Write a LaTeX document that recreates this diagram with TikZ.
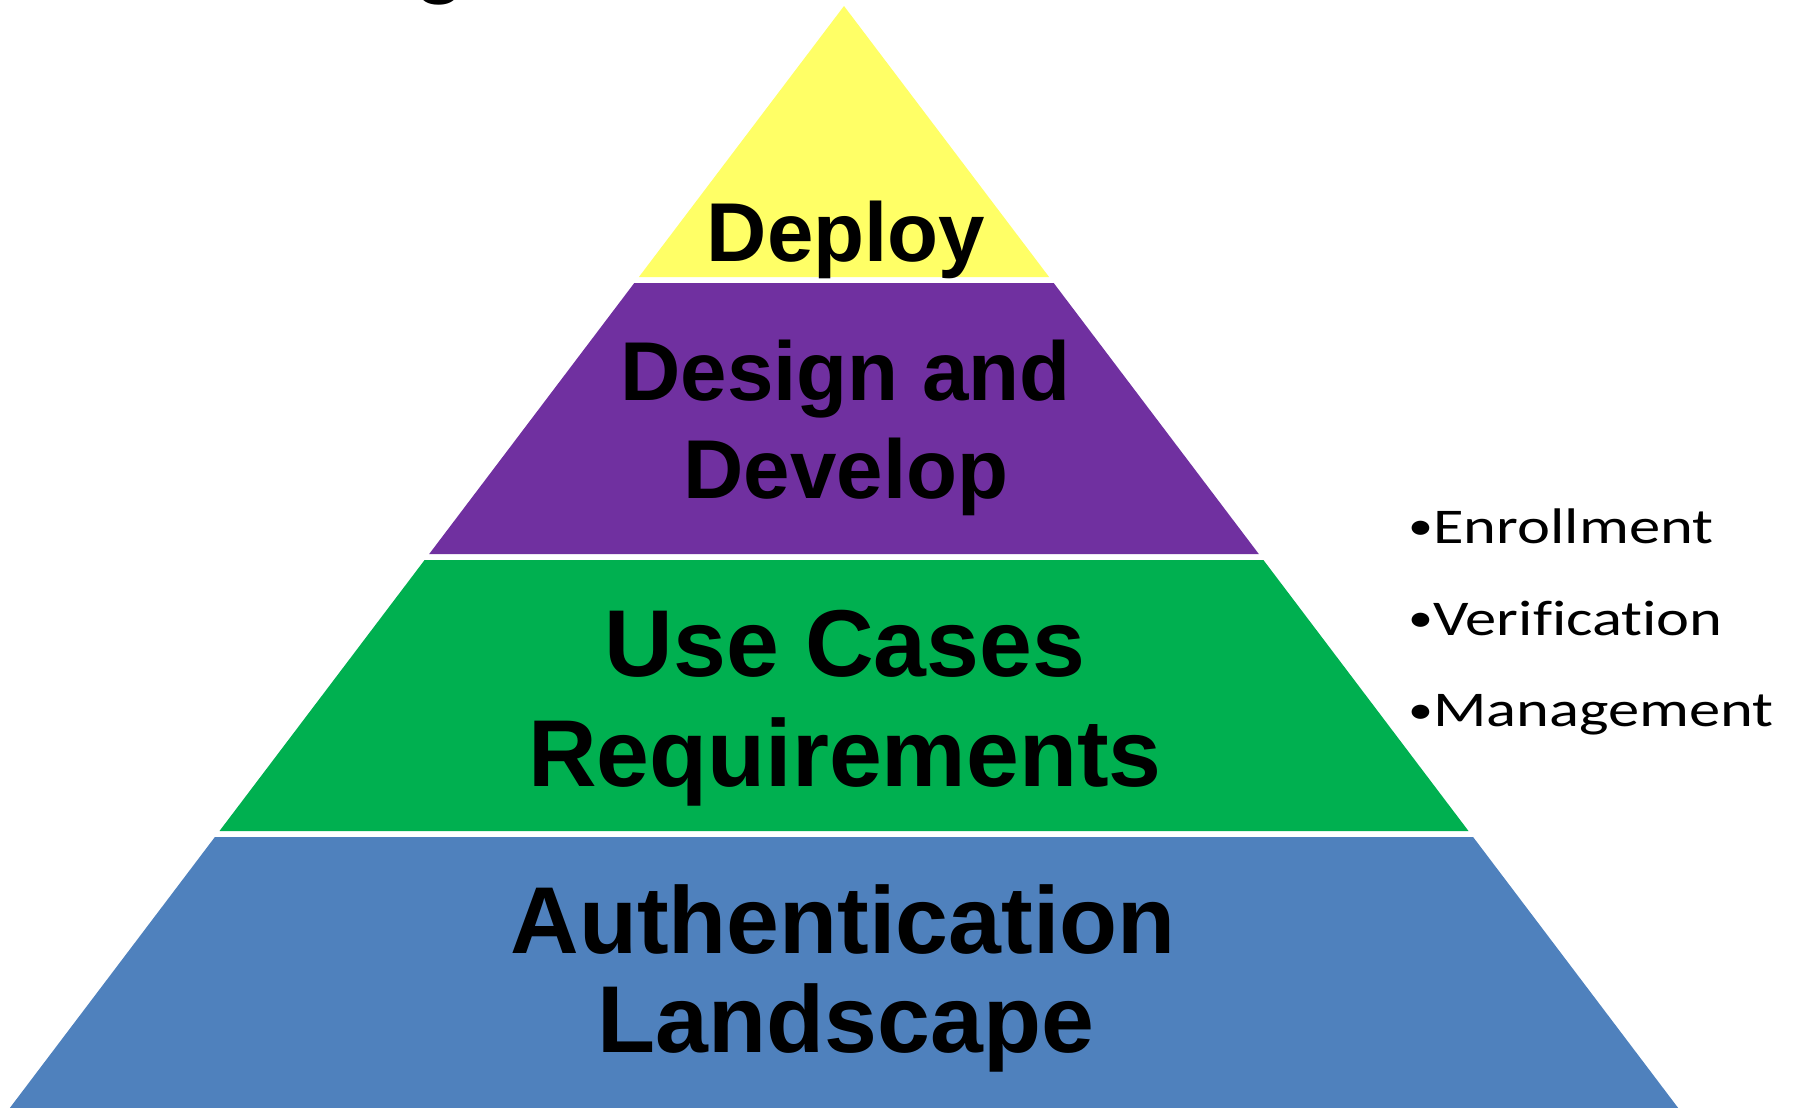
\documentclass[tikz,border=0pt]{standalone}
\usepackage{fontspec}
\newfontfamily\pyrfont{Liberation Sans}
\newfontfamily\bulfont[FakeStretch=1.25,Ligatures=NoCommon]{Carlito}
\definecolor{cyel}{RGB}{255,255,102}
\definecolor{cpur}{RGB}{112,48,160}
\definecolor{cgrn}{RGB}{0,176,80}
\definecolor{cblu}{RGB}{79,129,189}
\newcommand{\mybul}{\raisebox{1.4pt}{\scalebox{0.8}{•}}}
\begin{document}
\begin{tikzpicture}[x=0.4pt,y=-0.4pt,
  lblA/.style={anchor=base, inner sep=0pt, font=\pyrfont\bfseries\fontsize{33.4}{40}\selectfont},
  lblB/.style={anchor=base, inner sep=0pt, font=\pyrfont\bfseries\fontsize{38}{46}\selectfont},
  bul/.style={anchor=base west, inner sep=0pt, font=\bulfont\fontsize{20}{24}\selectfont}]
\useasboundingbox (0,0) rectangle (1796,1108);
\begin{scope}
\clip (0,0) rectangle (1796,1108);
% layers
\fill[cyel] (844,6) -- (1049.1,277) -- (638.9,277) -- cycle;
\fill[cpur] (634.3,283) -- (1053.7,283) -- (1258.8,554) -- (429.2,554) -- cycle;
\fill[cgrn] (424.6,560) -- (1263.4,560) -- (1468.5,831) -- (219.5,831) -- cycle;
\fill[cblu] (214.9,837) -- (1473.1,837) -- (1678.2,1108) -- (9.8,1108) -- cycle;
% cut-off title fragment
\node[lblA] (ttl) at (440,-12.6) {g};
\end{scope}
% labels
\node[lblA] (deploy) at (846,261.7) {Deploy};
\node[lblA] (design1) at (845.5,400.7) {Design and};
\node[lblA] (design2) at (846,498) {Develop};
\node[lblB] (use1) at (845,676.7) {Use Cases};
\node[lblB] (use2) at (845,786) {Requirements};
\node[lblB] (auth1) at (843,953.3) {Authentication};
\node[lblB] (auth2) at (846,1052.7) {Landscape};
% bullets
\node[bul] (b1) at (1408,543.3) {\mybul Enrollment};
\node[bul] (b2) at (1408,635) {\mybul Verification};
\node[bul] (b3) at (1408,726.7) {\mybul Management};
\end{tikzpicture}
\end{document}
